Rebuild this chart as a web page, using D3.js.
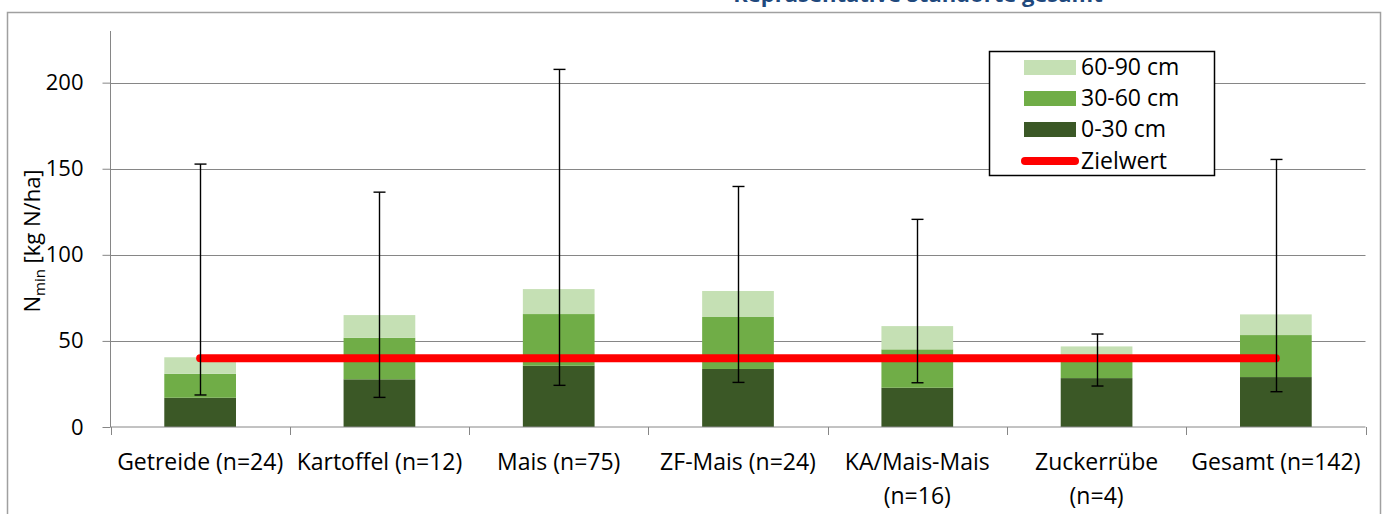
<!DOCTYPE html>
<html>
<head>
<meta charset="utf-8">
<script src="https://cdn.jsdelivr.net/npm/d3@7"></script>
<style>
  body { margin: 0; background: #fff; }
  svg text { font-family: "Open Sans", "Noto Sans", sans-serif; fill: #000; }
  .tick-label { font-size: 23px; }
  .legend-label { font-size: 23px; }
</style>
</head>
<body>
<svg width="1386" height="514"></svg>
<script>
// **** Data ****
var categories = ["Getreide", "Kartoffel", "Mais", "ZF-Mais", "KA/Mais-Mais", "Zuckerrübe", "Gesamt"];
// tick labels, one entry per line (Excel wrapped two of them)
var tickLabels = [
    ["Getreide (n=24)"],
    ["Kartoffel (n=12)"],
    ["Mais (n=75)"],
    ["ZF-Mais (n=24)"],
    ["KA/Mais-Mais", "(n=16)"],
    ["Zuckerrübe", "(n=4)"],
    ["Gesamt (n=142)"]
];
var layer0to30 = [17.0, 27.7, 35.6, 33.7, 22.8, 28.4, 29.0];
var layer30to60 = [13.9, 24.1, 30.0, 30.2, 22.3, 13.1, 24.4];
var layer60to90 = [9.6, 13.2, 14.5, 15.1, 13.5, 5.3, 12.0];
var errLow = [18.6, 17.2, 24.2, 25.9, 25.7, 23.8, 20.5];
var errHigh = [152.7, 136.4, 207.7, 139.7, 120.6, 54.0, 155.4];
var zielwert = 40;
var yTicks = [0, 50, 100, 150, 200];

var layerNames = ["0-30 cm", "30-60 cm", "60-90 cm"];
var layerColors = ["#3b5826", "#70ad47", "#c5e0b4"];

var svg = d3.select("svg");

// background and outer chart frame
svg.append("rect").attr("width", 1386).attr("height", 514).attr("fill", "#fff");
svg.append("rect")
    .attr("x", 7.5).attr("y", 12.5)
    .attr("width", 1373).attr("height", 540)
    .attr("fill", "none")
    .attr("stroke", "#a0a0a0")
    .attr("stroke-width", 1.5);

// title above the frame, mostly cut off at the top edge of the picture
svg.append("text")
    .attr("x", 918).attr("y", 2)
    .attr("text-anchor", "middle")
    .style("font-size", "22px")
    .style("font-weight", "bold")
    .style("fill", "#1f497d")
    .text("Repräsentative Standorte gesamt");

// **** Scales ****
var x = d3.scaleBand()
    .domain(categories)
    .range([110.5, 1365.5])
    .paddingInner(0)
    .paddingOuter(0);

var barWidth = x.bandwidth() * 0.4;

var y = d3.scaleLinear()
    .domain([0, 230])
    .range([427, 31]);

// gridlines
svg.append("g")
    .selectAll("line")
    .data(yTicks.filter(function(d) { return d > 0; }))
    .enter()
    .append("line")
    .attr("x1", 110.5).attr("x2", 1365.5)
    .attr("y1", function(d) { return Math.round(y(d)) + 0.5; })
    .attr("y2", function(d) { return Math.round(y(d)) + 0.5; })
    .attr("stroke", "#868686")
    .attr("stroke-width", 1);

// y axis
var yAxis = svg.append("g")
    .attr("transform", "translate(110.5,0)")
    .call(d3.axisLeft(y).tickValues(yTicks).tickSize(8).tickPadding(19));
yAxis.select(".domain").attr("stroke", "#868686").attr("d", "M0," + y(230) + "V" + y(0));
yAxis.selectAll(".tick line").attr("stroke", "#868686");
yAxis.selectAll(".tick text")
    .style("font-family", "'Open Sans', sans-serif")
    .style("font-size", "22px")
    .attr("fill", "#000");

// **** Stacked bars ****
var rows = categories.map(function(c, i) {
    return { cat: c, l0: layer0to30[i], l1: layer30to60[i], l2: layer60to90[i] };
});
var stack = d3.stack().keys(["l0", "l1", "l2"]);
var series = stack(rows);

svg.append("g")
    .selectAll("g")
    .data(series)
    .enter()
    .append("g")
    .attr("fill", function(d, i) { return layerColors[i]; })
    .selectAll("rect")
    .data(function(d) { return d; })
    .enter()
    .append("rect")
    .attr("x", function(d) { return x(d.data.cat) + (x.bandwidth() - barWidth) / 2; })
    .attr("width", barWidth)
    .attr("y", function(d) { return y(d[1]); })
    .attr("height", function(d) { return y(d[0]) - y(d[1]); });

// x axis (drawn after bars so the baseline stays visible)
var xAxis = svg.append("g")
    .attr("transform", "translate(0,427)");
xAxis.append("line")
    .attr("x1", 110.5).attr("x2", 1365.5)
    .attr("stroke", "#868686");
xAxis.selectAll("line.tk")
    .data(d3.range(categories.length + 1))
    .enter()
    .append("line")
    .attr("class", "tk")
    .attr("x1", function(i) { return Math.round(110.5 + i * x.bandwidth()) + 0.5; })
    .attr("x2", function(i) { return Math.round(110.5 + i * x.bandwidth()) + 0.5; })
    .attr("y1", 0).attr("y2", 8)
    .attr("stroke", "#868686");

var labels = xAxis.selectAll("text")
    .data(tickLabels)
    .enter()
    .append("text")
    .attr("class", "tick-label")
    .attr("text-anchor", "middle")
    .attr("transform", function(d, i) { return "translate(" + (x(categories[i]) + x.bandwidth() / 2) + ",43)"; });
labels.selectAll("tspan")
    .data(function(d) { return d; })
    .enter()
    .append("tspan")
    .attr("x", 0)
    .attr("y", function(d, j) { return j * 34; })
    .text(function(d) { return d; });

// **** Zielwert line ****
svg.append("line")
    .attr("x1", x(categories[0]) + x.bandwidth() / 2)
    .attr("x2", x(categories[categories.length - 1]) + x.bandwidth() / 2)
    .attr("y1", y(zielwert)).attr("y2", y(zielwert))
    .attr("stroke", "#ff0000")
    .attr("stroke-width", 8)
    .attr("stroke-linecap", "round");

// **** Error bars (min / max) ****
var errG = svg.append("g").attr("stroke", "#000").attr("stroke-width", 1.4);
categories.forEach(function(c, i) {
    var cx = Math.round(x(c) + x.bandwidth() / 2) + 0.5;
    errG.append("line").attr("x1", cx).attr("x2", cx).attr("y1", y(errLow[i])).attr("y2", y(errHigh[i]));
    errG.append("line").attr("x1", cx - 6).attr("x2", cx + 6).attr("y1", y(errLow[i])).attr("y2", y(errLow[i]));
    errG.append("line").attr("x1", cx - 6).attr("x2", cx + 6).attr("y1", y(errHigh[i])).attr("y2", y(errHigh[i]));
});

// **** Y axis title ****
var yTitle = svg.append("text")
    .attr("transform", "translate(40,241) rotate(-90)")
    .attr("text-anchor", "middle")
    .style("font-size", "22px");
yTitle.append("tspan").text("N");
yTitle.append("tspan").attr("dy", 5).style("font-size", "15px").text("min");
yTitle.append("tspan").attr("dy", -5).text(" [kg N/ha]");

// **** Legend ****
var legend = svg.append("g");
legend.append("rect")
    .attr("x", 989.5).attr("y", 51.5)
    .attr("width", 225).attr("height", 124)
    .attr("fill", "#fff")
    .attr("stroke", "#000")
    .attr("stroke-width", 1.5);

var legendRows = [
    { name: layerNames[2], color: layerColors[2], cy: 67 },
    { name: layerNames[1], color: layerColors[1], cy: 98 },
    { name: layerNames[0], color: layerColors[0], cy: 129 }
];
legendRows.forEach(function(r) {
    legend.append("rect")
        .attr("x", 1024).attr("y", r.cy - 7)
        .attr("width", 52).attr("height", 15)
        .attr("fill", r.color);
    legend.append("text")
        .attr("class", "legend-label")
        .attr("x", 1081).attr("y", r.cy)
        .attr("dy", "0.35em")
        .text(r.name);
});
legend.append("line")
    .attr("x1", 1025).attr("x2", 1075)
    .attr("y1", 161).attr("y2", 161)
    .attr("stroke", "#ff0000")
    .attr("stroke-width", 8)
    .attr("stroke-linecap", "round");
legend.append("text")
    .attr("class", "legend-label")
    .attr("x", 1081).attr("y", 161)
    .attr("dy", "0.35em")
    .text("Zielwert");
</script>
</body>
</html>
